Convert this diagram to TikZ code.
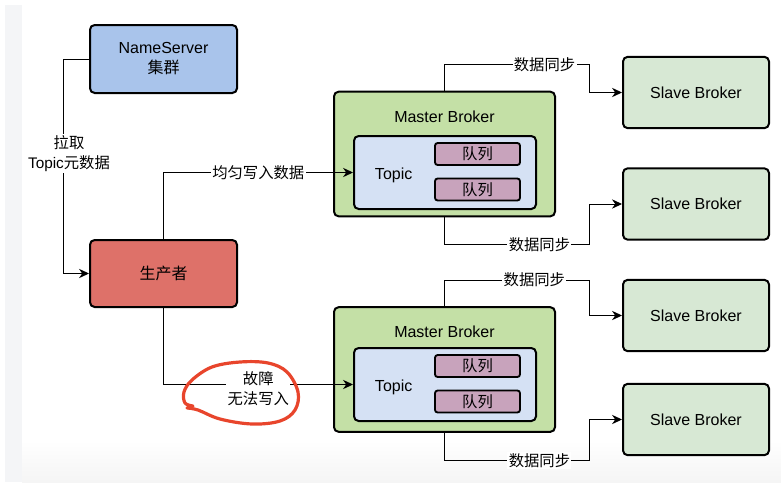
\documentclass[tikz,border=0pt]{standalone}
\usepackage{fontspec}
\setmainfont{Liberation Sans}
\newfontfamily\cjk{Noto Sans CJK SC}
\usetikzlibrary{arrows.meta, positioning, calc}

\definecolor{nsblue}{HTML}{A9C4EB}
\definecolor{prodred}{HTML}{DE7169}
\definecolor{mastergreen}{HTML}{C4E0A6}
\definecolor{topicblue}{HTML}{D5E1F4}
\definecolor{queuepink}{HTML}{C8A3BC}
\definecolor{slavegreen}{HTML}{D7E8D4}
\definecolor{faultred}{HTML}{E8452C}
\definecolor{stripgray}{HTML}{F4F5F7}

\tikzset{
  box/.style = {draw, line width=1.5pt, rounded corners=3.5pt, inner sep=0pt,
    align=center, font=\fontsize{12}{15}\selectfont},
  nsbox/.style = {box, fill=nsblue, minimum width=110.25pt, minimum height=51pt},
  prodbox/.style = {box, fill=prodred, minimum width=110.25pt, minimum height=50.25pt},
  master/.style = {box, fill=mastergreen, minimum width=165.75pt, minimum height=93.5pt},
  topicbox/.style = {box, fill=topicblue, minimum width=136.5pt, minimum height=54.75pt},
  queue/.style = {box, fill=queuepink, rounded corners=2pt, line width=1.4pt,
    minimum width=63.75pt, minimum height=16.5pt, font=\cjk\fontsize{11.5}{14}\selectfont},
  slave/.style = {box, fill=slavegreen, minimum width=109.5pt, minimum height=53.5pt},
  txt/.style = {inner sep=0pt, font=\fontsize{12}{15}\selectfont},
  link/.style = {line width=0.75pt, -{Stealth[length=7.5pt,width=7pt]}},
  lbl/.style = {fill=white, inner sep=1pt, align=center, font=\fontsize{11.5}{15}\selectfont},
}

\begin{document}
\begin{tikzpicture}[x=0.75pt, y=-0.75pt]
  \useasboundingbox (0,0) rectangle (781,482);
  % page edges
  \fill[stripgray] (5,5) rectangle (22,482);
  \shade[top color=white, bottom color=black!4] (22,440) rectangle (781,482);

  \node[nsbox] (ns) at (163.5,59) {NameServer\\{\cjk 集群}};
  \node[prodbox] (prod) at (163.5,273.5) {\cjk 生产者};

  % two masters, each with one topic of two queues
  \node[master] (m1) at (444.5,154) {};
  \node[txt] (m1name) at ([yshift=-19.5pt]m1.north) {Master Broker};
  \node[topicbox] (t1) at (445,172.5) {};
  \node[txt] (t1name) at ([xshift=30.5pt,yshift=-2pt]t1.west) {Topic};
  \node[queue] (q1a) at (477.5,154) {队列};
  \node[queue] (q1b) at (477.5,189.5) {队列};

  \node[master] (m2) at (444.5,369.5) {};
  \node[txt] (m2name) at ([yshift=-19.5pt]m2.north) {Master Broker};
  \node[topicbox] (t2) at (445,384.5) {};
  \node[txt] (t2name) at ([xshift=30.5pt,yshift=-2pt]t2.west) {Topic};
  \node[queue] (q2a) at (477.5,366) {队列};
  \node[queue] (q2b) at (477.5,401.5) {队列};

  \node[slave] (s1) at (696,92.5) {\raisebox{-1.2pt}{Slave Broker}};
  \node[slave] (s2) at (696,204) {\raisebox{-1.2pt}{Slave Broker}};
  \node[slave] (s3) at (696,315.5) {\raisebox{-1.2pt}{Slave Broker}};
  \node[slave] (s4) at (696,419.5) {\raisebox{-1.2pt}{Slave Broker}};

  \draw[link] (ns.west) -- ++(-26,0)
    |- node[lbl, pos=0.22, xshift=4.5pt] {{\cjk 拉取}\\Topic{\cjk 元数据}} (prod.west);
  \draw[link] (prod.north) |- node[lbl, pos=0.75] {\cjk 均匀写入数据} (t1.west);
  \draw[link] (prod.south) |- node[lbl, pos=0.75, yshift=-3pt] {{\cjk 故障}\\{\cjk 无法写入}} (t2.west);

  % master -> slave sync
  \draw[link] (m1.north) -- ++(0,-26) -- node[lbl, pos=0.69] {\cjk 数据同步} ++(145,0) |- (s1.west);
  \draw[link] (m1.south) -- ++(0,27) -- node[lbl, pos=0.655] {\cjk 数据同步} ++(145,0) |- (s2.west);
  \draw[link] (m2.north) -- ++(0,-26) -- node[lbl, pos=0.62] {\cjk 数据同步} ++(145,0) |- (s3.west);
  \draw[link] (m2.south) -- ++(0,28) -- node[lbl, pos=0.655] {\cjk 数据同步} ++(145,0) |- (s4.west);

  % hand-drawn ring
  \draw[faultred, line width=2.4pt, line cap=round, line join=round]
    plot[smooth, tension=0.6] coordinates {(193,406) (185,403) (184,392) (192,380) (212,367)
      (240,362) (268,363) (287,372) (298,392) (295,410) (280,421) (252,424) (220,419)
      (198,410) (187,408)};
\end{tikzpicture}
\end{document}
